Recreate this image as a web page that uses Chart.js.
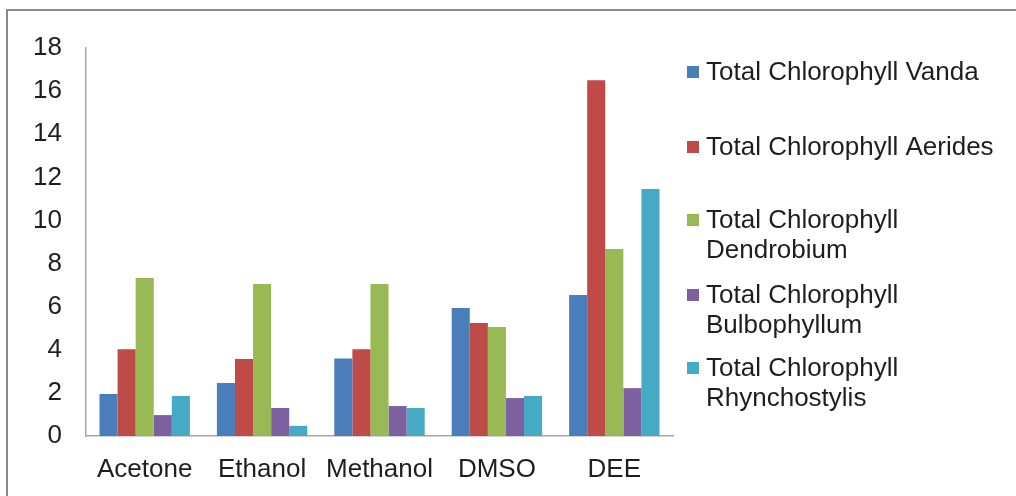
<!DOCTYPE html>
<html>
<head>
<meta charset="utf-8">
<script src="https://cdn.jsdelivr.net/npm/chart.js@4.4.1/dist/chart.umd.min.js"></script>
<style>
  html, body { margin: 0; padding: 0; background: #fff; }
  #wrap { width: 1016px; height: 496px; position: relative; }
</style>
</head>
<body>
<div id="wrap"><canvas id="chlChart" width="1016" height="496"></canvas></div>
<script>
// categories and series
const solvents = ["Acetone", "Ethanol", "Methanol", "DMSO", "DEE"];
const vanda = [1.95, 2.46, 3.6, 5.94, 6.54];
const aerides = [4.03, 3.57, 4.03, 5.24, 16.5];
const dendrobium = [7.33, 7.05, 7.05, 5.06, 8.67];
const bulbophyllum = [0.97, 1.3, 1.39, 1.76, 2.22];
const rhynchostylis = [1.86, 0.47, 1.3, 1.86, 11.46];
const seriesNames = [
  ["Total Chlorophyll Vanda"],
  ["Total Chlorophyll Aerides"],
  ["Total Chlorophyll", "Dendrobium"],
  ["Total Chlorophyll", "Bulbophyllum"],
  ["Total Chlorophyll", "Rhynchostylis"],
];
const yTicks = [0, 2, 4, 6, 8, 10, 12, 14, 16, 18];

const colors = ["#4a7ebb", "#be4b48", "#98b954", "#7d60a0", "#46aac5"];
const FONT = "'Liberation Sans', Arial, sans-serif";

// frame around the picture + the legend on the right
const framePlugin = {
  id: "frame",
  beforeDraw(chart) {
    const ctx = chart.ctx;
    ctx.save();
    ctx.strokeStyle = "#8a8a8a";
    ctx.lineWidth = 2;
    ctx.beginPath();
    ctx.moveTo(7, 496);
    ctx.lineTo(7, 10);
    ctx.lineTo(1016, 10);
    ctx.stroke();
    ctx.restore();
  },
  afterDraw(chart) {
    const ctx = chart.ctx;
    const itemTops = [72, 147, 220, 295, 368];
    ctx.save();
    ctx.font = "26px " + FONT;
    ctx.textBaseline = "middle";
    chart.data.datasets.forEach((ds, i) => {
      const y = itemTops[i];
      ctx.fillStyle = ds.backgroundColor;
      ctx.fillRect(687, y - 6, 12, 12);
      ctx.fillStyle = "#1e1e1e";
      seriesNames[i].forEach((line, j) => {
        ctx.fillText(line, 706, y + 1 + j * 30);
      });
    });
    ctx.restore();
  },
};

const datasets = [vanda, aerides, dendrobium, bulbophyllum, rhynchostylis].map((vals, i) => ({
  label: seriesNames[i].join(" "),
  data: vals,
  backgroundColor: colors[i],
  borderWidth: 0,
  categoryPercentage: 0.77,
  barPercentage: 1.0,
}));

new Chart(document.getElementById("chlChart").getContext("2d"), {
  type: "bar",
  data: { labels: solvents, datasets: datasets },
  plugins: [framePlugin],
  options: {
    responsive: false,
    animation: false,
    layout: { padding: { top: 48, right: 343, bottom: 0, left: 0 } },
    plugins: {
      legend: { display: false },
      tooltip: { enabled: false },
    },
    scales: {
      x: {
        grid: { display: false, drawTicks: false },
        border: { display: true, color: "#a6a6a6", width: 1.5 },
        ticks: {
          color: "#1e1e1e",
          font: { family: FONT, size: 26 },
          padding: 18,
          maxRotation: 0,
        },
        afterFit(scale) { scale.height = 60; },
      },
      y: {
        min: 0,
        max: 18,
        afterBuildTicks(scale) { scale.ticks = yTicks.map(v => ({ value: v })); },
        grid: { display: false, drawTicks: false },
        border: { display: true, color: "#a6a6a6", width: 1.5 },
        ticks: {
          color: "#1e1e1e",
          font: { family: FONT, size: 26 },
          padding: 24,
        },
        afterFit(scale) { scale.width = 86; },
      },
    },
  },
});
</script>
</body>
</html>
